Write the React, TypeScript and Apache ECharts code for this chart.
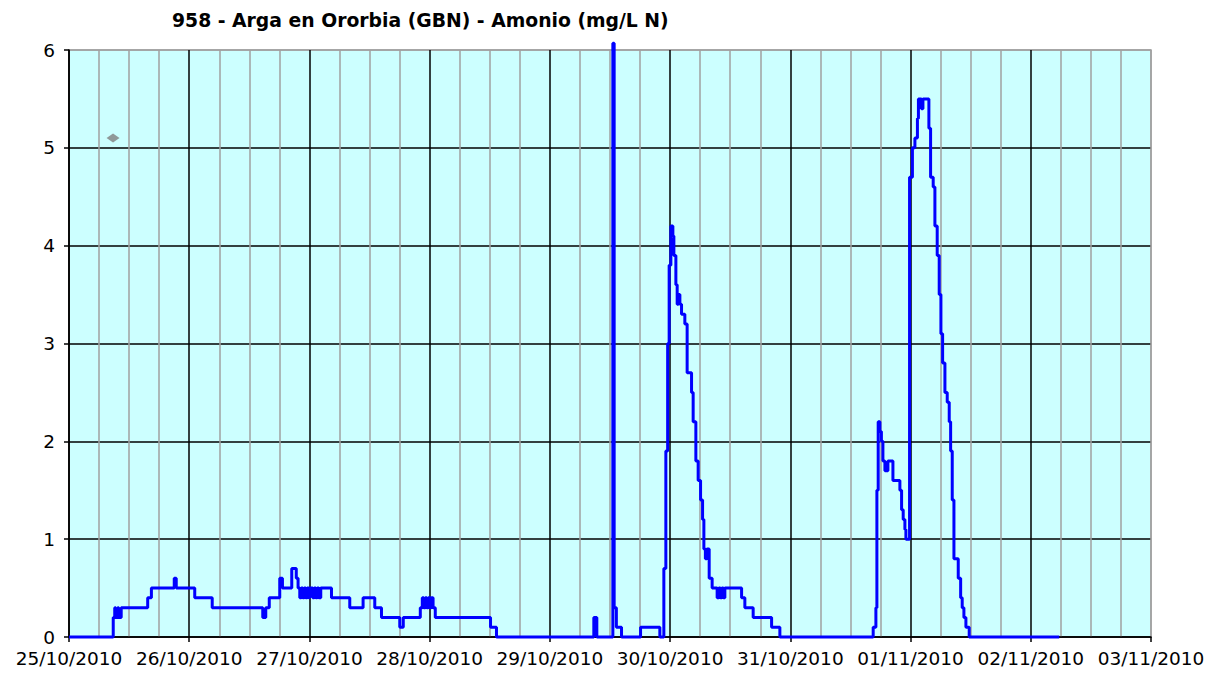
import React, { useEffect, useRef } from "react";
import * as echarts from "echarts";

// Hours elapsed since 25/10/2010 00:00 for each change point of the ammonium series
const hours = [
  0, 8.83, 9.13, 9.33, 9.72, 9.92, 10.42, 15.71, 16.45, 21.01, 21.41, 25.1, 28.59,
  38.68, 39.28, 39.98, 42.07, 42.61, 44.47, 45.37, 45.73, 46.07, 46.37, 46.67, 46.96,
  47.26, 47.56, 47.86, 48.06, 48.66, 48.96, 49.26, 49.56, 49.86, 50.26, 52.4, 56.05,
  58.71, 61.04, 62.38, 66.03, 66.73, 70.13, 70.53, 70.83, 71.13, 71.43, 71.73, 72.12,
  72.32, 72.68, 73.12, 84.15, 85.34, 104.77, 105.37, 108.57, 108.83, 109.27, 110.3,
  114.1, 117.95, 118.75, 119.15, 119.51, 119.81, 120.15, 120.55, 120.75, 121.15,
  121.41, 121.65, 121.95, 122.28, 122.94, 123.4, 124.28, 124.6, 125.14, 125.6, 126.08,
  126.48, 126.74, 127.04, 127.34, 127.8, 128.39, 129.39, 129.73, 130.03, 130.33,
  130.63, 130.93, 134.27, 134.92, 136.58, 140.26, 141.91, 160.54, 161.08, 161.28,
  161.54, 161.88, 162.18, 162.48, 162.88, 163.48, 164.48, 165.87, 166.21, 166.53,
  166.87, 167.07, 167.8, 168.37, 168.87, 169.37, 169.57, 170.17, 170.47, 171.66, 172.0,
  172.52, 172.86, 173.32, 173.72, 174.06, 174.4, 174.86, 175.32, 175.72, 176.0, 176.32,
  176.66, 177.52, 178.0, 178.31, 178.65, 179.05, 179.71, 197.68,
];

// Ammonium (mg/L N) at each change point
const amonio = [
  0, 0.2, 0.3, 0.2, 0.3, 0.2, 0.3, 0.4, 0.5, 0.6, 0.5, 0.4, 0.3,
  0.2, 0.3, 0.4, 0.6, 0.5, 0.7, 0.6, 0.5, 0.4, 0.5, 0.4, 0.5,
  0.4, 0.5, 0.4, 0.5, 0.4, 0.5, 0.4, 0.5, 0.4, 0.5, 0.4, 0.3,
  0.4, 0.3, 0.2, 0.1, 0.2, 0.3, 0.4, 0.3, 0.4, 0.3, 0.4, 0.3,
  0.4, 0.3, 0.2, 0.1, 0, 0.2, 0, 6.07, 0.3, 0.1, 0,
  0.1, 0, 0.7, 1.9, 3.0, 3.8, 4.2, 4.1, 3.9, 3.6,
  3.4, 3.5, 3.4, 3.3, 3.2, 2.7, 2.5, 2.2, 1.8, 1.6, 1.4,
  1.2, 0.9, 0.8, 0.9, 0.6, 0.5, 0.4, 0.5, 0.4, 0.5,
  0.4, 0.5, 0.4, 0.3, 0.2, 0.1, 0, 0.1, 0.3, 1.5,
  2.2, 2.1, 2.0, 1.8, 1.7, 1.8, 1.6, 1.5, 1.3, 1.2,
  1.1, 1.0, 4.7, 5.0, 5.1, 5.3, 5.5, 5.4, 5.5, 5.2, 4.7,
  4.6, 4.2, 3.9, 3.5, 3.1, 2.8, 2.5, 2.4, 2.2, 1.9, 1.4,
  0.8, 0.6, 0.4, 0.3, 0.2, 0.1, 0, 0,
];

// Isolated grey point
const pointHours = [8.79];
const pointValues = [5.1];

const yTicks = [0, 1, 2, 3, 4, 5, 6];
const titleText = "958 - Arga en Ororbia (GBN) - Amonio (mg/L N)";
const baseDate = Date.UTC(2010, 9, 25);

const pad = (n: number) => (n < 10 ? "0" + n : "" + n);
const fmtDate = (h: number) => {
  const d = new Date(baseDate + h * 3600000);
  return pad(d.getUTCDate()) + "/" + pad(d.getUTCMonth() + 1) + "/" + d.getUTCFullYear();
};

export default function App() {
  const ref = useRef<HTMLDivElement>(null);
  useEffect(() => {
    if (!ref.current) return;
    const chart = echarts.init(ref.current, undefined, { renderer: "svg" });
    const font = "'DejaVu Sans', Verdana, sans-serif";
    chart.setOption({
      animation: false,
      backgroundColor: "#ffffff",
      title: {
        text: titleText,
        left: 167,
        top: 6,
        textStyle: { fontFamily: font, fontSize: 18.8, fontWeight: "bold", color: "#000" },
      },
      grid: {
        left: 69,
        right: 70,
        top: 50,
        bottom: 42,
        show: true,
        backgroundColor: "#CCFFFF",
        borderColor: "#A0A0A0",
        borderWidth: 1.5,
      },
      xAxis: {
        type: "value",
        min: 0,
        max: 216,
        interval: 24,
        axisLine: { show: true, onZero: false, lineStyle: { color: "#000", width: 1.5 } },
        axisTick: { show: true, length: 5, lineStyle: { color: "#000", width: 1.5 } },
        axisLabel: {
          formatter: (v: number) => fmtDate(v),
          fontFamily: font,
          fontSize: 18.5,
          color: "#000",
          margin: 12,
          showMinLabel: true,
          showMaxLabel: true,
        },
        splitLine: {
          show: true,
          lineStyle: {
            color: ["#000", "#000", "#000", "#000", "#000", "#000", "#000", "#000", "#000", "#A0A0A0"],
            width: 1.5,
          },
        },
        minorTick: { show: false, splitNumber: 4 },
        minorSplitLine: { show: true, lineStyle: { color: "#A0A0A0", width: 1.5 } },
      },
      yAxis: {
        type: "value",
        min: yTicks[0],
        max: yTicks[yTicks.length - 1],
        interval: 1,
        axisLine: { show: true, lineStyle: { color: "#000", width: 1.5 } },
        axisTick: { show: true, length: 5, lineStyle: { color: "#000", width: 1.5 } },
        axisLabel: { fontFamily: font, fontSize: 18.5, color: "#000", margin: 14 },
        splitLine: {
          show: true,
          lineStyle: {
            color: ["#000", "#000", "#000", "#000", "#000", "#000", "#A0A0A0"],
            width: 1.5,
          },
        },
      },
      series: [
        {
          type: "line",
          data: hours.map((h, i) => [h, amonio[i]]),
          step: "end",
          showSymbol: false,
          symbol: "none",
          clip: false,
          lineStyle: { color: "#0000FF", width: 3 },
          z: 3,
        },
        {
          type: "scatter",
          data: pointHours.map((h, i) => [h, pointValues[i]]),
          symbol: "diamond",
          symbolSize: [13, 9],
          itemStyle: { color: "#7F7F7F" },
          z: 4,
        },
      ],
    });
    return () => chart.dispose();
  }, []);
  return (
    <div
      ref={ref}
      style={{ position: "fixed", left: 0, top: 0, width: 1221, height: 679 }}
    />
  );
}
